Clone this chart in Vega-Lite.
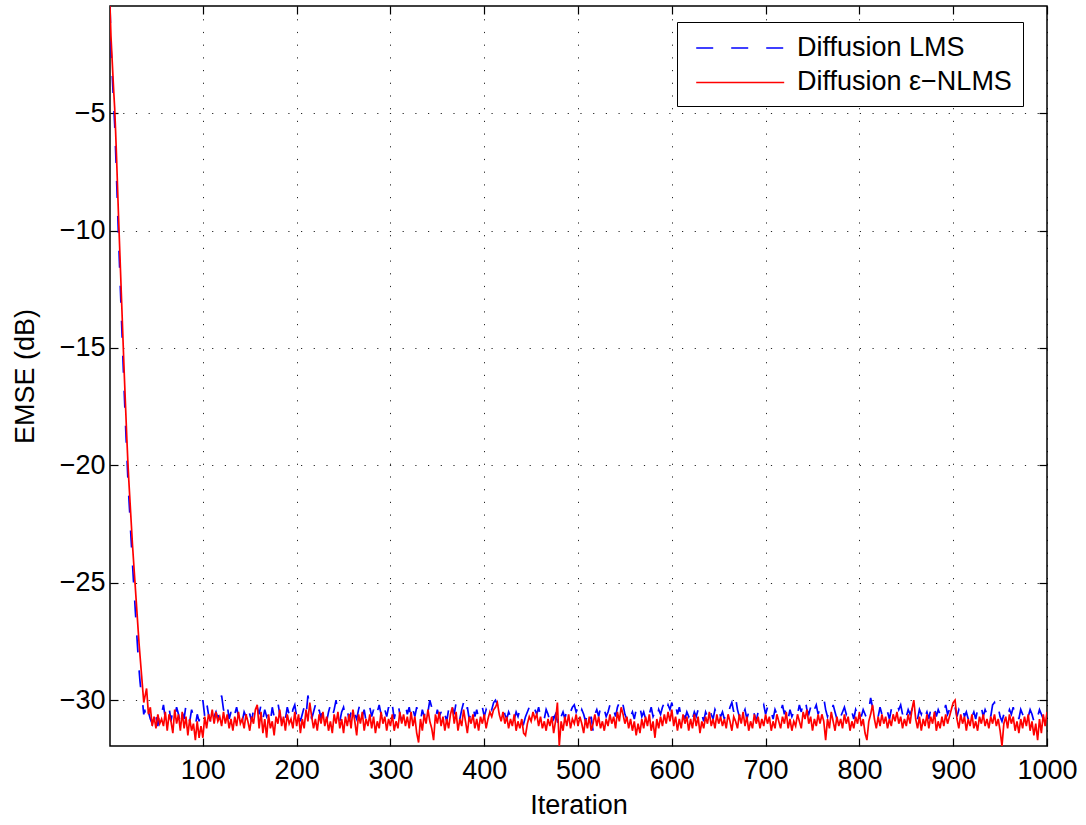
{
  "$schema": "https://vega.github.io/schema/vega-lite/v6.json",
  "width": 937,
  "height": 740,
  "autosize": "none",
  "padding": {"left": 110, "top": 6, "right": 39, "bottom": 79},
  "background": "white",
  "config": {
    "font": "Liberation Sans",
    "view": {"stroke": "black", "strokeWidth": 1.5},
    "axis": {"domain": false, "labelColor": "black", "titleColor": "black", "tickColor": "black", "labelFontSize": 27, "titleFontSize": 27, "titleFontWeight": "normal", "labelOverlap": false, "labelFlush": false}
  },
  "data": {"values": [
    {"i":1,"a":-0.44,"b":-0.44},{"i":2,"a":-2.1,"b":-1.7},{"i":3,"a":-3.0,"b":-2.5},{"i":4,"a":-3.9,"b":-3.3},{"i":5,"a":-4.7,"b":-4.1},
    {"i":6,"a":-5.5,"b":-4.8},{"i":7,"a":-6.6,"b":-5.8},{"i":8,"a":-7.8,"b":-6.9},{"i":9,"a":-9.0,"b":-8.1},{"i":10,"a":-10.2,"b":-9.3},
    {"i":11,"a":-11.3,"b":-10.4},{"i":12,"a":-12.4,"b":-11.5},{"i":13,"a":-13.5,"b":-12.6},{"i":14,"a":-14.6,"b":-13.7},{"i":15,"a":-15.7,"b":-14.8},
    {"i":16,"a":-16.7,"b":-15.9},{"i":17,"a":-17.7,"b":-16.9},{"i":18,"a":-18.7,"b":-17.9},{"i":19,"a":-19.6,"b":-18.9},{"i":20,"a":-20.5,"b":-19.8},
    {"i":21,"a":-21.3,"b":-20.6},{"i":22,"a":-22.0,"b":-21.3},{"i":23,"a":-22.8,"b":-22.0},{"i":24,"a":-23.5,"b":-22.7},{"i":25,"a":-24.2,"b":-23.4},
    {"i":26,"a":-24.9,"b":-24.0},{"i":27,"a":-25.5,"b":-24.6},{"i":28,"a":-26.2,"b":-25.2},{"i":29,"a":-26.8,"b":-25.8},{"i":30,"a":-27.5,"b":-26.4},
    {"i":31,"a":-28.1,"b":-27.0},{"i":32,"a":-28.7,"b":-27.6},{"i":33,"a":-29.2,"b":-28.1},{"i":34,"a":-29.6,"b":-28.6},{"i":35,"a":-30.0,"b":-29.1},
    {"i":36,"a":-30.2,"b":-29.6},{"i":37,"a":-30.6,"b":-30.1},
    {"i":38,"a":-30.4,"b":-29.9},{"i":40,"a":-30.9,"b":-29.5},{"i":42,"a":-30.5,"b":-30.6},{"i":44,"a":-30.8,"b":-30.3},{"i":46,"a":-31.0,"b":-31.1},
    {"i":48,"a":-30.4,"b":-30.7},{"i":50,"a":-30.7,"b":-31.2},{"i":52,"a":-31.1,"b":-30.6},{"i":54,"a":-30.4,"b":-31.0},{"i":56,"a":-30.6,"b":-30.8},
    {"i":58,"a":-30.2,"b":-31.1},{"i":60,"a":-30.8,"b":-30.5},{"i":62,"a":-30.5,"b":-31.3},{"i":64,"a":-30.3,"b":-30.6},{"i":66,"a":-30.9,"b":-30.9},
    {"i":68,"a":-30.4,"b":-31.4},{"i":70,"a":-30.7,"b":-30.4},{"i":72,"a":-30.3,"b":-31.0},{"i":74,"a":-30.6,"b":-30.6},{"i":76,"a":-31.0,"b":-31.3},
    {"i":78,"a":-30.5,"b":-30.5},{"i":80,"a":-30.8,"b":-31.2},{"i":82,"a":-30.2,"b":-30.7},{"i":84,"a":-30.6,"b":-31.5},{"i":86,"a":-30.9,"b":-30.8},
    {"i":88,"a":-30.4,"b":-31.3},{"i":90,"a":-30.7,"b":-31.0},{"i":92,"a":-31.1,"b":-31.7},{"i":94,"a":-30.6,"b":-30.9},{"i":96,"a":-30.9,"b":-31.6},
    {"i":98,"a":-30.3,"b":-31.1},{"i":100,"a":-30.0,"b":-31.6},{"i":102,"a":-30.7,"b":-30.7},{"i":104,"a":-30.1,"b":-31.2},{"i":106,"a":-30.6,"b":-30.6},
    {"i":108,"a":-30.9,"b":-30.9},{"i":110,"a":-30.4,"b":-30.4},{"i":112,"a":-30.7,"b":-31.0},{"i":114,"a":-30.5,"b":-30.5},{"i":116,"a":-30.8,"b":-30.9},
    {"i":118,"a":-30.3,"b":-30.7},{"i":120,"a":-29.8,"b":-31.1},{"i":122,"a":-30.4,"b":-30.5},{"i":124,"a":-30.6,"b":-31.0},{"i":126,"a":-30.2,"b":-30.6},
    {"i":128,"a":-30.8,"b":-31.2},{"i":130,"a":-30.5,"b":-30.8},{"i":132,"a":-30.9,"b":-31.3},{"i":134,"a":-30.6,"b":-30.7},{"i":136,"a":-30.3,"b":-31.1},
    {"i":138,"a":-30.7,"b":-30.5},{"i":140,"a":-30.4,"b":-31.0},{"i":142,"a":-30.9,"b":-30.8},{"i":144,"a":-30.5,"b":-31.2},{"i":146,"a":-30.7,"b":-30.6},
    {"i":148,"a":-30.2,"b":-30.9},{"i":150,"a":-30.6,"b":-31.3},{"i":152,"a":-30.9,"b":-30.7},{"i":154,"a":-30.4,"b":-31.0},{"i":156,"a":-30.7,"b":-30.4},
    {"i":158,"a":-30.3,"b":-30.2},{"i":160,"a":-30.6,"b":-31.2},{"i":162,"a":-30.2,"b":-30.5},{"i":164,"a":-30.8,"b":-31.4},{"i":166,"a":-30.4,"b":-30.8},
    {"i":168,"a":-30.7,"b":-31.6},{"i":170,"a":-30.5,"b":-30.6},{"i":172,"a":-30.9,"b":-31.2},{"i":174,"a":-30.3,"b":-30.9},{"i":176,"a":-30.7,"b":-31.5},
    {"i":178,"a":-30.4,"b":-30.7},{"i":180,"a":-30.1,"b":-31.0},{"i":182,"a":-30.6,"b":-30.4},{"i":184,"a":-30.9,"b":-31.1},{"i":186,"a":-30.5,"b":-30.7},
    {"i":188,"a":-30.8,"b":-31.3},{"i":190,"a":-30.3,"b":-30.6},{"i":192,"a":-30.6,"b":-31.0},{"i":194,"a":-30.9,"b":-30.8},{"i":196,"a":-30.4,"b":-31.2},
    {"i":198,"a":-30.2,"b":-30.5},{"i":200,"a":-30.7,"b":-31.1},{"i":202,"a":-30.4,"b":-30.6},{"i":204,"a":-30.9,"b":-31.4},{"i":206,"a":-30.6,"b":-30.8},
    {"i":208,"a":-30.3,"b":-31.2},{"i":210,"a":-30.7,"b":-30.4},{"i":212,"a":-29.8,"b":-30.9},{"i":214,"a":-30.3,"b":-30.1},{"i":216,"a":-30.8,"b":-30.7},
    {"i":218,"a":-30.5,"b":-31.2},{"i":220,"a":-30.2,"b":-30.8},{"i":222,"a":-30.7,"b":-31.3},{"i":224,"a":-30.4,"b":-30.6},{"i":226,"a":-30.8,"b":-31.0},
    {"i":228,"a":-30.3,"b":-30.5},{"i":230,"a":-30.6,"b":-31.1},{"i":232,"a":-30.9,"b":-30.7},{"i":234,"a":-30.5,"b":-31.3},{"i":236,"a":-30.2,"b":-30.9},
    {"i":238,"a":-30.7,"b":-31.4},{"i":240,"a":-30.4,"b":-30.6},{"i":242,"a":-30.0,"b":-31.0},{"i":244,"a":-30.6,"b":-30.5},{"i":246,"a":-30.9,"b":-31.2},
    {"i":248,"a":-30.5,"b":-30.8},{"i":250,"a":-30.3,"b":-31.4},{"i":252,"a":-30.7,"b":-30.7},{"i":254,"a":-30.4,"b":-31.1},{"i":256,"a":-30.9,"b":-30.6},
    {"i":258,"a":-30.5,"b":-31.2},{"i":260,"a":-30.2,"b":-30.4},{"i":262,"a":-30.6,"b":-30.9},{"i":264,"a":-30.8,"b":-31.5},{"i":266,"a":-30.4,"b":-30.6},
    {"i":268,"a":-30.1,"b":-31.0},{"i":270,"a":-30.7,"b":-30.5},{"i":272,"a":-30.4,"b":-31.3},{"i":274,"a":-30.9,"b":-30.8},{"i":276,"a":-30.5,"b":-31.1},
    {"i":278,"a":-30.3,"b":-30.6},{"i":280,"a":-30.7,"b":-31.2},{"i":282,"a":-30.4,"b":-30.7},{"i":284,"a":-30.8,"b":-31.4},{"i":286,"a":-30.5,"b":-30.9},
    {"i":288,"a":-30.2,"b":-31.2},{"i":290,"a":-30.6,"b":-30.5},{"i":292,"a":-30.9,"b":-31.0},{"i":294,"a":-30.4,"b":-30.7},{"i":296,"a":-30.7,"b":-31.3},
    {"i":298,"a":-30.3,"b":-30.8},{"i":300,"a":-30.6,"b":-31.1},{"i":302,"a":-30.2,"b":-30.6},{"i":304,"a":-30.8,"b":-31.3},{"i":306,"a":-30.4,"b":-30.9},
    {"i":308,"a":-30.1,"b":-31.2},{"i":310,"a":-30.6,"b":-30.5},{"i":312,"a":-30.9,"b":-31.0},{"i":314,"a":-30.5,"b":-30.6},{"i":316,"a":-30.2,"b":-31.1},
    {"i":318,"a":-30.6,"b":-30.7},{"i":320,"a":-30.3,"b":-31.2},{"i":322,"a":-30.8,"b":-30.5},{"i":324,"a":-30.4,"b":-31.1},{"i":326,"a":-30.7,"b":-30.7},
    {"i":328,"a":-30.3,"b":-31.4},{"i":330,"a":-30.6,"b":-31.8},{"i":332,"a":-30.9,"b":-30.8},{"i":334,"a":-30.4,"b":-31.3},{"i":336,"a":-30.7,"b":-30.6},
    {"i":338,"a":-30.2,"b":-31.0},{"i":340,"a":-30.5,"b":-30.4},{"i":342,"a":-30.0,"b":-30.9},{"i":344,"a":-30.3,"b":-31.2},{"i":346,"a":-30.6,"b":-31.7},
    {"i":348,"a":-30.8,"b":-30.6},{"i":350,"a":-30.4,"b":-31.0},{"i":352,"a":-30.7,"b":-30.5},{"i":354,"a":-30.5,"b":-31.1},{"i":356,"a":-30.2,"b":-30.7},
    {"i":358,"a":-30.6,"b":-31.3},{"i":360,"a":-30.9,"b":-30.8},{"i":362,"a":-30.4,"b":-31.2},{"i":364,"a":-30.7,"b":-30.6},{"i":366,"a":-30.3,"b":-30.3},
    {"i":368,"a":-30.6,"b":-31.0},{"i":370,"a":-30.1,"b":-30.5},{"i":372,"a":-30.5,"b":-31.3},{"i":374,"a":-30.8,"b":-30.8},{"i":376,"a":-30.4,"b":-31.1},
    {"i":378,"a":-30.1,"b":-30.4},{"i":380,"a":-30.6,"b":-30.9},{"i":382,"a":-30.3,"b":-31.4},{"i":384,"a":-30.8,"b":-30.7},{"i":386,"a":-30.5,"b":-31.0},
    {"i":388,"a":-30.2,"b":-30.6},{"i":390,"a":-30.7,"b":-31.2},{"i":392,"a":-30.4,"b":-30.8},{"i":394,"a":-30.8,"b":-31.3},{"i":396,"a":-30.5,"b":-30.7},
    {"i":398,"a":-30.3,"b":-31.0},{"i":400,"a":-30.7,"b":-30.6},{"i":402,"a":-30.4,"b":-31.2},{"i":404,"a":-30.6,"b":-30.8},{"i":406,"a":-30.2,"b":-30.5},
    {"i":408,"a":-30.4,"b":-30.7},{"i":410,"a":-30.1,"b":-30.4},{"i":412,"a":-30.0,"b":-30.3},{"i":414,"a":-30.2,"b":-30.1},{"i":416,"a":-30.4,"b":-30.6},
    {"i":418,"a":-30.5,"b":-30.9},{"i":420,"a":-30.3,"b":-30.5},{"i":422,"a":-30.6,"b":-31.0},{"i":424,"a":-30.8,"b":-30.7},{"i":426,"a":-30.5,"b":-31.2},
    {"i":428,"a":-30.7,"b":-30.8},{"i":430,"a":-30.4,"b":-31.1},{"i":432,"a":-30.8,"b":-30.6},{"i":434,"a":-30.5,"b":-31.3},{"i":436,"a":-30.7,"b":-30.9},
    {"i":438,"a":-30.4,"b":-31.2},{"i":440,"a":-30.8,"b":-30.8},{"i":442,"a":-31.0,"b":-31.4},{"i":444,"a":-30.7,"b":-31.5},{"i":446,"a":-30.5,"b":-31.0},
    {"i":448,"a":-30.3,"b":-30.7},{"i":450,"a":-30.5,"b":-30.9},{"i":452,"a":-30.2,"b":-30.5},{"i":454,"a":-30.4,"b":-30.8},{"i":456,"a":-30.6,"b":-30.6},
    {"i":458,"a":-30.3,"b":-31.1},{"i":460,"a":-30.7,"b":-30.7},{"i":462,"a":-30.5,"b":-31.2},{"i":464,"a":-30.8,"b":-30.9},{"i":466,"a":-30.4,"b":-31.3},
    {"i":468,"a":-30.6,"b":-30.8},{"i":470,"a":-30.9,"b":-31.1},{"i":472,"a":-30.5,"b":-30.7},{"i":474,"a":-30.8,"b":-31.4},{"i":476,"a":-30.6,"b":-30.9},
    {"i":478,"a":-30.9,"b":-30.1},{"i":480,"a":-31.2,"b":-31.95},{"i":482,"a":-30.7,"b":-30.9},{"i":484,"a":-30.5,"b":-31.3},{"i":486,"a":-30.8,"b":-30.7},
    {"i":488,"a":-30.4,"b":-31.1},{"i":490,"a":-30.7,"b":-30.6},{"i":492,"a":-30.5,"b":-31.2},{"i":494,"a":-30.3,"b":-30.8},{"i":496,"a":-30.2,"b":-31.0},
    {"i":498,"a":-30.5,"b":-30.6},{"i":500,"a":-30.3,"b":-31.1},{"i":502,"a":-30.7,"b":-30.7},{"i":504,"a":-30.4,"b":-31.0},{"i":506,"a":-30.6,"b":-31.4},
    {"i":508,"a":-30.9,"b":-30.8},{"i":510,"a":-30.6,"b":-31.2},{"i":512,"a":-31.0,"b":-30.7},{"i":514,"a":-30.7,"b":-31.3},{"i":516,"a":-31.3,"b":-31.0},
    {"i":518,"a":-30.6,"b":-30.6},{"i":520,"a":-30.4,"b":-31.1},{"i":522,"a":-30.7,"b":-30.7},{"i":524,"a":-30.3,"b":-31.2},{"i":526,"a":-30.6,"b":-30.9},
    {"i":528,"a":-30.4,"b":-31.3},{"i":530,"a":-30.7,"b":-30.8},{"i":532,"a":-30.5,"b":-31.1},{"i":534,"a":-30.2,"b":-30.6},{"i":536,"a":-30.6,"b":-31.0},
    {"i":538,"a":-30.4,"b":-30.7},{"i":540,"a":-30.7,"b":-31.2},{"i":542,"a":-30.3,"b":-30.5},{"i":544,"a":-30.1,"b":-30.9},{"i":546,"a":-30.5,"b":-30.3},
    {"i":548,"a":-30.2,"b":-30.6},{"i":550,"a":-30.6,"b":-31.0},{"i":552,"a":-30.8,"b":-30.7},{"i":554,"a":-30.4,"b":-31.2},{"i":556,"a":-30.7,"b":-30.8},
    {"i":558,"a":-30.5,"b":-31.3},{"i":560,"a":-30.8,"b":-30.9},{"i":562,"a":-30.4,"b":-31.5},{"i":564,"a":-30.6,"b":-31.0},{"i":566,"a":-30.3,"b":-31.4},
    {"i":568,"a":-30.7,"b":-30.8},{"i":570,"a":-30.5,"b":-31.2},{"i":572,"a":-30.8,"b":-30.7},{"i":574,"a":-30.4,"b":-31.1},{"i":576,"a":-30.6,"b":-30.6},
    {"i":578,"a":-30.3,"b":-31.3},{"i":580,"a":-30.7,"b":-30.9},{"i":582,"a":-30.5,"b":-31.6},{"i":584,"a":-30.8,"b":-30.8},{"i":586,"a":-30.4,"b":-31.2},
    {"i":588,"a":-30.6,"b":-30.7},{"i":590,"a":-30.3,"b":-31.1},{"i":592,"a":-30.1,"b":-30.6},{"i":594,"a":-30.5,"b":-31.0},{"i":596,"a":-30.2,"b":-30.5},
    {"i":598,"a":-30.4,"b":-30.9},{"i":600,"a":-30.1,"b":-30.4},{"i":602,"a":-30.5,"b":-31.1},{"i":604,"a":-30.2,"b":-30.7},{"i":606,"a":-30.6,"b":-31.3},
    {"i":608,"a":-30.3,"b":-30.8},{"i":610,"a":-30.7,"b":-31.2},{"i":612,"a":-30.4,"b":-30.6},{"i":614,"a":-30.8,"b":-31.0},{"i":616,"a":-30.5,"b":-30.7},
    {"i":618,"a":-30.7,"b":-31.3},{"i":620,"a":-30.4,"b":-30.8},{"i":622,"a":-30.8,"b":-31.2},{"i":624,"a":-30.5,"b":-30.6},{"i":626,"a":-30.7,"b":-31.1},
    {"i":628,"a":-30.4,"b":-30.7},{"i":630,"a":-30.8,"b":-31.4},{"i":632,"a":-30.6,"b":-30.9},{"i":634,"a":-30.9,"b":-31.2},{"i":636,"a":-30.5,"b":-30.7},
    {"i":638,"a":-30.7,"b":-31.0},{"i":640,"a":-30.3,"b":-30.5},{"i":642,"a":-30.6,"b":-31.1},{"i":644,"a":-30.8,"b":-30.8},{"i":646,"a":-30.4,"b":-31.2},
    {"i":648,"a":-30.6,"b":-30.6},{"i":650,"a":-30.3,"b":-31.0},{"i":652,"a":-30.7,"b":-30.7},{"i":654,"a":-30.5,"b":-31.1},{"i":656,"a":-30.8,"b":-30.8},
    {"i":658,"a":-30.4,"b":-31.2},{"i":660,"a":-30.6,"b":-30.6},{"i":662,"a":-30.3,"b":-30.9},{"i":664,"a":-30.1,"b":-31.3},{"i":666,"a":-30.5,"b":-30.7},
    {"i":668,"a":-29.9,"b":-30.9},{"i":670,"a":-30.4,"b":-31.2},{"i":672,"a":-30.7,"b":-30.6},{"i":674,"a":-30.3,"b":-31.0},{"i":676,"a":-30.6,"b":-30.5},
    {"i":678,"a":-30.4,"b":-31.1},{"i":680,"a":-30.8,"b":-30.7},{"i":682,"a":-30.5,"b":-31.3},{"i":684,"a":-30.7,"b":-30.9},{"i":686,"a":-30.4,"b":-31.2},
    {"i":688,"a":-30.6,"b":-30.6},{"i":690,"a":-30.9,"b":-31.0},{"i":692,"a":-30.5,"b":-30.7},{"i":694,"a":-30.7,"b":-31.2},{"i":696,"a":-30.4,"b":-30.8},
    {"i":698,"a":-30.2,"b":-31.1},{"i":700,"a":-30.6,"b":-30.6},{"i":702,"a":-30.3,"b":-31.0},{"i":704,"a":-30.7,"b":-30.7},{"i":706,"a":-30.5,"b":-31.3},
    {"i":708,"a":-30.8,"b":-30.9},{"i":710,"a":-30.4,"b":-31.2},{"i":712,"a":-30.6,"b":-30.6},{"i":714,"a":-30.3,"b":-30.9},{"i":716,"a":-30.5,"b":-31.2},
    {"i":718,"a":-30.2,"b":-30.7},{"i":720,"a":-30.6,"b":-31.0},{"i":722,"a":-30.3,"b":-30.5},{"i":724,"a":-30.8,"b":-31.2},{"i":726,"a":-30.4,"b":-30.8},
    {"i":728,"a":-30.7,"b":-31.3},{"i":730,"a":-30.5,"b":-30.9},{"i":732,"a":-30.3,"b":-31.1},{"i":734,"a":-30.6,"b":-30.6},{"i":736,"a":-30.2,"b":-30.9},
    {"i":738,"a":-30.5,"b":-31.2},{"i":740,"a":-30.1,"b":-30.5},{"i":742,"a":-29.9,"b":-30.8},{"i":744,"a":-30.4,"b":-30.4},{"i":746,"a":-30.6,"b":-31.0},
    {"i":748,"a":-30.3,"b":-30.7},{"i":750,"a":-30.7,"b":-31.3},{"i":752,"a":-30.4,"b":-30.8},{"i":754,"a":-30.2,"b":-31.1},{"i":756,"a":-30.6,"b":-30.6},
    {"i":758,"a":-30.3,"b":-31.0},{"i":760,"a":-30.1,"b":-30.6},{"i":762,"a":-29.9,"b":-30.9},{"i":764,"a":-30.4,"b":-31.7},{"i":766,"a":-30.7,"b":-30.8},
    {"i":768,"a":-30.4,"b":-31.2},{"i":770,"a":-30.6,"b":-30.5},{"i":772,"a":-30.2,"b":-30.9},{"i":774,"a":-30.5,"b":-31.3},{"i":776,"a":-30.8,"b":-30.7},
    {"i":778,"a":-30.4,"b":-31.1},{"i":780,"a":-30.7,"b":-30.8},{"i":782,"a":-30.5,"b":-31.2},{"i":784,"a":-30.3,"b":-30.6},{"i":786,"a":-30.6,"b":-31.0},
    {"i":788,"a":-30.4,"b":-30.7},{"i":790,"a":-30.7,"b":-31.3},{"i":792,"a":-30.5,"b":-30.9},{"i":794,"a":-30.8,"b":-31.2},{"i":796,"a":-30.4,"b":-30.7},
    {"i":798,"a":-30.6,"b":-31.0},{"i":800,"a":-30.3,"b":-30.5},{"i":802,"a":-30.7,"b":-31.1},{"i":804,"a":-30.4,"b":-30.8},{"i":806,"a":-30.6,"b":-31.4},
    {"i":808,"a":-30.8,"b":-31.7},{"i":810,"a":-30.4,"b":-30.9},{"i":812,"a":-29.9,"b":-30.6},{"i":814,"a":-30.3,"b":-30.2},{"i":816,"a":-30.6,"b":-30.8},
    {"i":818,"a":-30.4,"b":-31.2},{"i":820,"a":-30.7,"b":-30.7},{"i":822,"a":-30.3,"b":-31.1},{"i":824,"a":-30.6,"b":-30.6},{"i":826,"a":-30.4,"b":-31.0},
    {"i":828,"a":-30.7,"b":-30.7},{"i":830,"a":-30.5,"b":-31.2},{"i":832,"a":-30.8,"b":-30.8},{"i":834,"a":-30.4,"b":-31.1},{"i":836,"a":-30.2,"b":-30.6},
    {"i":838,"a":-30.0,"b":-30.9},{"i":840,"a":-30.1,"b":-30.5},{"i":842,"a":-30.4,"b":-31.0},{"i":844,"a":-30.2,"b":-30.7},{"i":846,"a":-30.6,"b":-31.2},
    {"i":848,"a":-30.3,"b":-30.8},{"i":850,"a":-30.7,"b":-31.1},{"i":852,"a":-30.4,"b":-30.6},{"i":854,"a":-30.6,"b":-31.0},{"i":856,"a":-30.4,"b":-30.4},
    {"i":858,"a":-30.7,"b":-30.0},{"i":860,"a":-30.5,"b":-30.8},{"i":862,"a":-30.8,"b":-31.2},{"i":864,"a":-30.4,"b":-30.7},{"i":866,"a":-30.6,"b":-31.3},
    {"i":868,"a":-30.3,"b":-30.8},{"i":870,"a":-30.7,"b":-31.1},{"i":872,"a":-30.5,"b":-30.6},{"i":874,"a":-30.8,"b":-31.2},{"i":876,"a":-30.4,"b":-30.7},
    {"i":878,"a":-30.6,"b":-31.0},{"i":880,"a":-30.3,"b":-30.5},{"i":882,"a":-30.7,"b":-31.3},{"i":884,"a":-30.4,"b":-30.9},{"i":886,"a":-30.6,"b":-31.2},
    {"i":888,"a":-30.3,"b":-30.7},{"i":890,"a":-30.5,"b":-31.1},{"i":892,"a":-30.2,"b":-30.6},{"i":894,"a":-30.6,"b":-31.0},{"i":896,"a":-30.4,"b":-30.7},
    {"i":898,"a":-30.2,"b":-30.4},{"i":900,"a":-30.5,"b":-30.1},{"i":902,"a":-30.3,"b":-30.0},{"i":904,"a":-30.7,"b":-30.8},{"i":906,"a":-30.4,"b":-31.2},
    {"i":908,"a":-30.6,"b":-30.6},{"i":910,"a":-30.3,"b":-31.0},{"i":912,"a":-30.7,"b":-30.7},{"i":914,"a":-30.5,"b":-31.3},{"i":916,"a":-30.8,"b":-30.8},
    {"i":918,"a":-30.4,"b":-31.1},{"i":920,"a":-30.7,"b":-30.6},{"i":922,"a":-30.5,"b":-31.2},{"i":924,"a":-30.8,"b":-30.9},{"i":926,"a":-30.4,"b":-31.3},
    {"i":928,"a":-30.6,"b":-30.7},{"i":930,"a":-30.3,"b":-31.0},{"i":932,"a":-30.7,"b":-30.6},{"i":934,"a":-30.4,"b":-31.1},{"i":936,"a":-30.6,"b":-30.8},
    {"i":938,"a":-30.3,"b":-31.2},{"i":940,"a":-30.7,"b":-30.7},{"i":942,"a":-30.2,"b":-31.0},{"i":944,"a":-30.1,"b":-30.6},{"i":946,"a":-30.5,"b":-31.1},
    {"i":948,"a":-30.3,"b":-30.8},{"i":950,"a":-30.7,"b":-31.3},{"i":952,"a":-30.9,"b":-31.95},{"i":954,"a":-30.6,"b":-31.0},{"i":956,"a":-30.4,"b":-30.7},
    {"i":958,"a":-30.7,"b":-31.2},{"i":960,"a":-30.4,"b":-30.6},{"i":962,"a":-30.6,"b":-31.0},{"i":964,"a":-30.3,"b":-30.7},{"i":966,"a":-30.7,"b":-31.3},
    {"i":968,"a":-30.5,"b":-30.9},{"i":970,"a":-30.8,"b":-31.4},{"i":972,"a":-30.4,"b":-30.8},{"i":974,"a":-30.6,"b":-31.2},{"i":976,"a":-30.8,"b":-30.7},
    {"i":978,"a":-30.5,"b":-31.1},{"i":980,"a":-30.7,"b":-30.6},{"i":982,"a":-30.4,"b":-31.3},{"i":984,"a":-30.6,"b":-30.9},{"i":986,"a":-30.9,"b":-31.5},
    {"i":988,"a":-30.5,"b":-31.0},{"i":990,"a":-30.7,"b":-31.7},{"i":992,"a":-30.4,"b":-30.8},{"i":994,"a":-30.6,"b":-31.4},{"i":996,"a":-30.8,"b":-30.6},
    {"i":998,"a":-30.5,"b":-31.1},{"i":1000,"a":-30.7,"b":-30.5}
  ]},
  "transform": [{"fold": ["a", "b"], "as": ["s", "v"]}],
  "layer": [
    {
      "mark": {"type": "line", "strokeWidth": 1.7, "clip": true},
      "encoding": {
        "x": {
          "field": "i", "type": "quantitative",
          "scale": {"domain": [1, 1000], "nice": false, "zero": false},
          "axis": {"orient": "bottom", "values": [100, 200, 300, 400, 500, 600, 700, 800, 900, 1000], "format": "d", "grid": true, "gridColor": "black", "gridDash": [1.2, 11.5], "gridOpacity": 0.85, "tickSize": -8, "tickWidth": 1.2, "labelPadding": 19, "title": "Iteration", "titlePadding": 9}
        },
        "y": {
          "field": "v", "type": "quantitative",
          "scale": {"domain": [-31.95, -0.44], "nice": false, "zero": false},
          "axis": {"orient": "left", "values": [-30, -25, -20, -15, -10, -5], "grid": true, "gridColor": "black", "gridDash": [1.2, 11.5], "gridOpacity": 0.85, "tickSize": -8, "tickWidth": 1.2, "labelPadding": 13, "title": "EMSE (dB)", "titlePadding": 20}
        },
        "color": {
          "field": "s", "type": "nominal",
          "scale": {"domain": ["a", "b"], "range": ["#0000ff", "#ff0000"]},
          "legend": {"title": null, "orient": "none", "legendX": 567, "legendY": 16, "strokeColor": "black", "fillColor": "white", "padding": 10.4, "symbolType": "M-3,0H3", "symbolSize": 860, "symbolStrokeWidth": 1.5, "symbolOffset": 37.3, "labelFontSize": 27, "labelColor": "black", "labelLimit": 0, "labelOffset": 41.3, "rowPadding": 5.5, "labelExpr": "datum.label == 'a' ? 'Diffusion LMS' : 'Diffusion ε−NLMS'"}
        },
        "strokeDash": {
          "field": "s", "type": "nominal",
          "scale": {"domain": ["a", "b"], "range": [[17, 18], [1, 0]]},
          "legend": {"title": null, "orient": "none", "legendX": 567, "legendY": 16, "strokeColor": "black", "fillColor": "white", "padding": 10.4, "symbolType": "M-3,0H3", "symbolSize": 860, "symbolStrokeWidth": 1.5, "symbolOffset": 37.3, "labelFontSize": 27, "labelColor": "black", "labelLimit": 0, "labelOffset": 41.3, "rowPadding": 5.5, "labelExpr": "datum.label == 'a' ? 'Diffusion LMS' : 'Diffusion ε−NLMS'"}
        }
      }
    },
    {
      "mark": {"type": "point", "opacity": 0},
      "encoding": {
        "x": {
          "field": "i", "type": "quantitative",
          "scale": {"domain": [1, 1000], "nice": false, "zero": false},
          "axis": {"orient": "top", "values": [100, 200, 300, 400, 500, 600, 700, 800, 900, 1000], "labels": false, "grid": false, "tickSize": -8, "tickWidth": 1.2, "title": null}
        },
        "y": {
          "field": "v", "type": "quantitative",
          "scale": {"domain": [-31.95, -0.44], "nice": false, "zero": false},
          "axis": {"orient": "right", "values": [-30, -25, -20, -15, -10, -5], "labels": false, "grid": false, "tickSize": -8, "tickWidth": 1.2, "title": null}
        }
      }
    }
  ],
  "resolve": {"axis": {"x": "independent", "y": "independent"}}
}
